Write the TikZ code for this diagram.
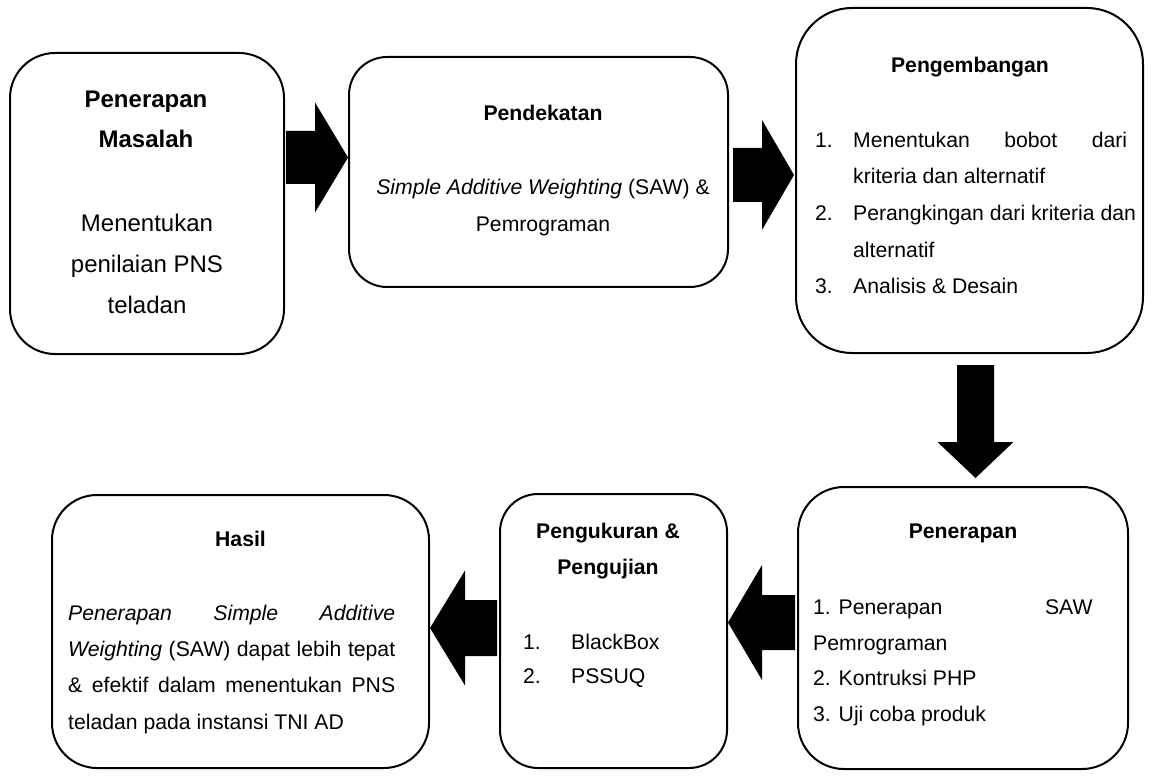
\documentclass[tikz,border=0pt]{standalone}
\usepackage{fontspec}
\setmainfont{Liberation Sans}
\usetikzlibrary{calc}
\newcommand\blockH[5]{%
  \fill let \p1=(#1), \p2=(#2) in
    ({\x1},{\y1+#3}) -- ({\x2-(#5)},{\y1+#3}) -- ({\x2-(#5)},{\y1+#4}) -- ({\x2},{\y2})
    -- ({\x2-(#5)},{\y1-#4}) -- ({\x2-(#5)},{\y1-#3}) -- ({\x1},{\y1-#3}) -- cycle;}
\newcommand\blockV[5]{%
  \fill let \p1=(#1), \p2=(#2) in
    ({\x1+#3},{\y1}) -- ({\x1+#3},{\y2-(#5)}) -- ({\x1+#4},{\y2-(#5)}) -- ({\x2},{\y2})
    -- ({\x1-#4},{\y2-(#5)}) -- ({\x1-#3},{\y2-(#5)}) -- ({\x1-#3},{\y1}) -- cycle;}
\tikzset{
  box/.style={draw, line width=2pt, rectangle, inner sep=0pt},
  txt/.style={inner sep=0pt, font=\fontsize{21.2}{25}\selectfont},
  bigtxt/.style={inner sep=0pt, font=\fontsize{24}{29}\selectfont},
}
\begin{document}
\begin{tikzpicture}[x=1pt,y=-1pt]
\useasboundingbox[fill=white] (0,0) rectangle (1152,778);
% boxes
\node[box, rounded corners=45pt, minimum width=274pt, minimum height=301pt] (b1) at (147,203.5) {};
\node[box, rounded corners=38pt, minimum width=379pt, minimum height=230pt] (b2) at (538.5,172) {};
\node[box, rounded corners=56pt, minimum width=347pt, minimum height=345pt] (b3) at (969.5,180.5) {};
\node[box, rounded corners=46pt, minimum width=330pt, minimum height=282pt] (b4) at (963,628) {};
\node[box, rounded corners=38pt, minimum width=227pt, minimum height=274pt] (b5) at (613.5,631) {};
\node[box, rounded corners=45pt, minimum width=377pt, minimum height=273pt] (b6) at (240.5,631.5) {};
% arrows
\coordinate (a1t) at (286,157.5); \coordinate (a1h) at (348,157.5);
\coordinate (a2t) at (733,175);   \coordinate (a2h) at (794,175);
\coordinate (a3t) at (975.5,365); \coordinate (a3h) at (975.5,478);
\coordinate (a4t) at (795,622.5); \coordinate (a4h) at (728,622.5);
\coordinate (a5t) at (497,628);   \coordinate (a5h) at (430,628);
\blockH{a1t}{a1h}{26.5pt}{55pt}{33pt}
\blockH{a2t}{a2h}{27pt}{55pt}{32pt}
\blockV{a3t}{a3h}{18.5pt}{38pt}{-36pt}
\blockH{a4t}{a4h}{27.5pt}{57.5pt}{-34pt}
\blockH{a5t}{a5h}{28pt}{57.5pt}{-35pt}
% box 1 text
\node[bigtxt, anchor=base] (t1a) at (146,108) {\bfseries Penerapan};
\node[bigtxt, anchor=base] (t1b) at (146,148) {\bfseries Masalah};
\node[bigtxt, anchor=base] (t1c) at (147,231.7) {Menentukan};
\node[bigtxt, anchor=base] (t1d) at (147,272.7) {penilaian PNS};
\node[bigtxt, anchor=base] (t1e) at (147,313) {teladan};
% box 2 text
\node[txt, anchor=base] (t2a) at (543,121) {\bfseries Pendekatan};
\node[txt, anchor=base] (t2b) at (543,195) {\textit{Simple Additive Weighting} (SAW) \&};
\node[txt, anchor=base] (t2c) at (543,231.7) {Pemrograman};
% box 3 text
\node[txt, anchor=base] (t3a) at (970,73) {\bfseries Pengembangan};
\node[txt, anchor=base west] (t3n1) at (815,147.5) {1.};
\node[txt, anchor=base west] (t3b) at (853,147.5) {\makebox[274pt][s]{Menentukan bobot dari}};
\node[txt, anchor=base west] (t3c) at (853,184) {kriteria dan alternatif};
\node[txt, anchor=base west] (t3n2) at (815,220.7) {2.};
\node[txt, anchor=base west] (t3d) at (853,220.7) {Perangkingan dari kriteria dan};
\node[txt, anchor=base west] (t3e) at (853,257.3) {alternatif};
\node[txt, anchor=base west] (t3n3) at (815,294) {3.};
\node[txt, anchor=base west] (t3f) at (853,294) {Analisis \& Desain};
% box 4 text
\node[txt, anchor=base] (t4a) at (963,538.3) {\bfseries Penerapan};
\node[txt, anchor=base west] (t4b) at (813,614) {1. Penerapan};
\node[txt, anchor=base east] (t4c) at (1092.7,614) {SAW};
\node[txt, anchor=base west] (t4d) at (813,650) {Pemrograman};
\node[txt, anchor=base west] (t4e) at (813,685.5) {2. Kontruksi PHP};
\node[txt, anchor=base west] (t4f) at (813,721.7) {3. Uji coba produk};
% box 5 text
\node[txt, anchor=base] (t5a) at (608,538) {\bfseries Pengukuran \&};
\node[txt, anchor=base] (t5b) at (608,574) {\bfseries Pengujian};
\node[txt, anchor=base west] (t5n1) at (523,649.3) {1.};
\node[txt, anchor=base west] (t5c) at (571,649.3) {BlackBox};
\node[txt, anchor=base west] (t5n2) at (523,683.3) {2.};
\node[txt, anchor=base west] (t5d) at (571,683.3) {PSSUQ};
% box 6 text
\node[txt, anchor=base] (t6a) at (240.5,546) {\bfseries Hasil};
\node[txt, anchor=base west] (t6b) at (68,620.7) {\makebox[327pt][s]{\itshape Penerapan Simple Additive}};
\node[txt, anchor=base west] (t6c) at (68,656.7) {\makebox[327pt][s]{\textit{Weighting} (SAW) dapat lebih tepat}};
\node[txt, anchor=base west] (t6d) at (68,692.7) {\makebox[327pt][s]{\& efektif dalam menentukan PNS}};
\node[txt, anchor=base west] (t6e) at (68,729.3) {teladan pada instansi TNI AD};
\end{tikzpicture}
\end{document}
